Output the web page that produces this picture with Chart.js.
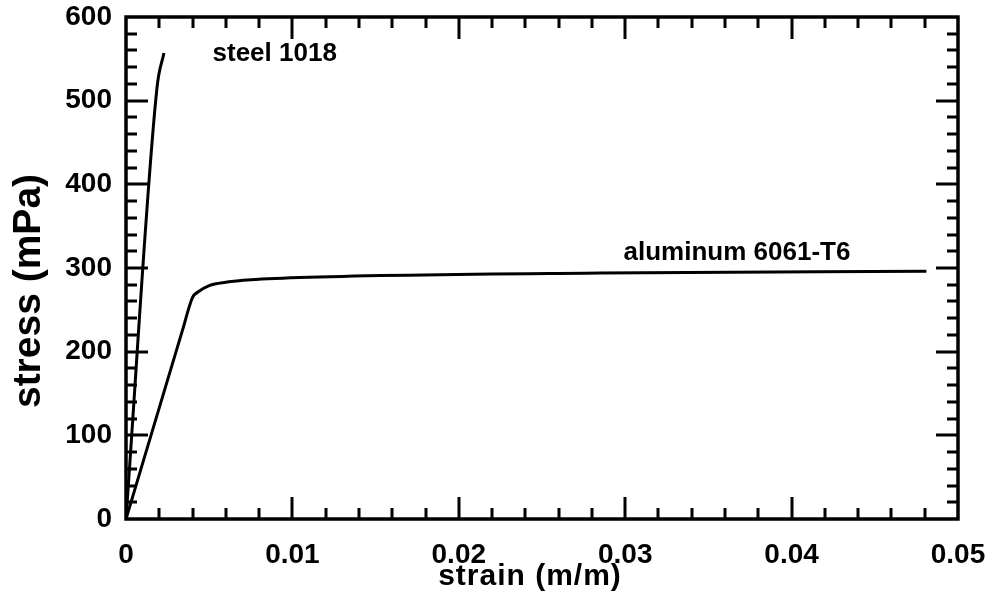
<!DOCTYPE html>
<html>
<head>
<meta charset="utf-8">
<script src="https://cdn.jsdelivr.net/npm/chart.js@4/dist/chart.umd.min.js"></script>
<style>
  html, body { margin: 0; padding: 0; background: #fff; }
  #wrap { width: 992px; height: 607px; position: relative; }
</style>
</head>
<body>
<div id="wrap"><canvas id="stressChart"></canvas></div>
<script>
// tensile test curves, strain in m/m and stress in mPa
const steelStrain = [0, 0.00186, 0.00228];
const steelStress = [0, 515, 557];
const aluStrain = [0, 0.0034, 0.0040, 0.0043, 0.0050, 0.0060, 0.0075, 0.011, 0.0285, 0.0481];
const aluStress = [0, 226, 265, 271, 279, 283, 286, 289, 294, 296];

const xTickValues = [0, 0.01, 0.02, 0.03, 0.04, 0.05];
const xTickLabels = ['0', '0.01', '0.02', '0.03', '0.04', '0.05'];
const yTickValues = [0, 100, 200, 300, 400, 500, 600];
const yTickLabels = ['0', '100', '200', '300', '400', '500', '600'];

// curve labels: [text, strain, stress]
const curveLabels = [
    ['steel 1018', 0.0052, 547],
    ['aluminum 6061-T6', 0.0299, 310]
];

const FONT = "'Liberation Sans', Arial, Helvetica, sans-serif";

function toPoints(xs, ys) {
    return xs.map((x, i) => ({ x: x, y: ys[i] }));
}

// box around the plot with inward ticks on every side
const frameTicks = {
    id: 'frameTicks',
    afterDatasetsDraw(chart) {
        const { ctx, chartArea: a, scales } = chart;
        const xs = scales.x, ys = scales.y;
        ctx.save();
        ctx.strokeStyle = '#000';
        ctx.lineWidth = 3;
        ctx.lineCap = 'butt';
        ctx.beginPath();
        for (let i = 1; i < 25; i++) {
            const v = i * 0.002;
            const px = Math.round(xs.getPixelForValue(v));
            const len = (i % 5 === 0) ? 22 : 11;
            ctx.moveTo(px, a.bottom); ctx.lineTo(px, a.bottom - len);
            ctx.moveTo(px, a.top); ctx.lineTo(px, a.top + len);
        }
        for (let i = 1; i < 30; i++) {
            const v = i * 20;
            const py = Math.round(ys.getPixelForValue(v));
            const len = (i % 5 === 0) ? 22 : 11;
            ctx.moveTo(a.left, py); ctx.lineTo(a.left + len, py);
            ctx.moveTo(a.right, py); ctx.lineTo(a.right - len, py);
        }
        ctx.stroke();
        ctx.lineWidth = 3.5;
        ctx.strokeRect(a.left, a.top, a.right - a.left, a.bottom - a.top);

        // curve names
        ctx.fillStyle = '#000';
        ctx.font = 'bold 26px ' + FONT;
        ctx.textAlign = 'left';
        ctx.textBaseline = 'alphabetic';
        curveLabels.forEach(([txt, sx, sy]) => {
            ctx.fillText(txt, xs.getPixelForValue(sx), ys.getPixelForValue(sy));
        });

        // axis titles
        ctx.font = 'bold 30px ' + FONT;
        ctx.letterSpacing = '1px';
        ctx.textAlign = 'center';
        ctx.fillText('strain (m/m)', (a.left + a.right) / 2 - 12, a.bottom + 66);
        ctx.font = 'bold 39px ' + FONT;
        ctx.letterSpacing = '0px';
        ctx.translate(40, (a.top + a.bottom) / 2 + 23);
        ctx.rotate(-Math.PI / 2);
        ctx.fillText('stress (mPa)', 0, 0);
        ctx.restore();
    }
};

const lineStyle = {
    borderColor: '#000',
    borderWidth: 3,
    pointRadius: 0,
    fill: false,
    cubicInterpolationMode: 'monotone'
};

new Chart(document.getElementById('stressChart'), {
    type: 'line',
    data: {
        datasets: [
            Object.assign({ label: 'steel 1018', data: toPoints(steelStrain, steelStress) }, lineStyle),
            Object.assign({ label: 'aluminum 6061-T6', data: toPoints(aluStrain, aluStress) }, lineStyle)
        ]
    },
    options: {
        responsive: true,
        maintainAspectRatio: false,
        animation: false,
        layout: { padding: { left: 0, right: 34, top: 17, bottom: 0 } },
        plugins: { legend: { display: false }, tooltip: { enabled: false } },
        scales: {
            x: {
                type: 'linear',
                min: 0,
                max: 0.05,
                afterBuildTicks: s => { s.ticks = xTickValues.map(v => ({ value: v })); },
                afterFit: s => { s.height = 88; s.paddingLeft = 0; s.paddingRight = 0; },
                grid: { display: false, drawTicks: false },
                border: { display: false },
                ticks: {
                    padding: 19,
                    color: '#000',
                    maxRotation: 0,
                    font: { family: FONT, size: 28, weight: 'bold' },
                    callback: (v, i) => xTickLabels[i]
                }
            },
            y: {
                type: 'linear',
                min: 0,
                max: 600,
                afterBuildTicks: s => { s.ticks = yTickValues.map(v => ({ value: v })); },
                afterFit: s => { s.width = 126; s.paddingTop = 0; s.paddingBottom = 0; },
                grid: { display: false, drawTicks: false },
                border: { display: false },
                ticks: {
                    padding: 14,
                    color: '#000',
                    font: { family: FONT, size: 28, weight: 'bold' },
                    callback: (v, i) => yTickLabels[i]
                }
            }
        }
    },
    plugins: [frameTicks]
});
</script>
</body>
</html>
